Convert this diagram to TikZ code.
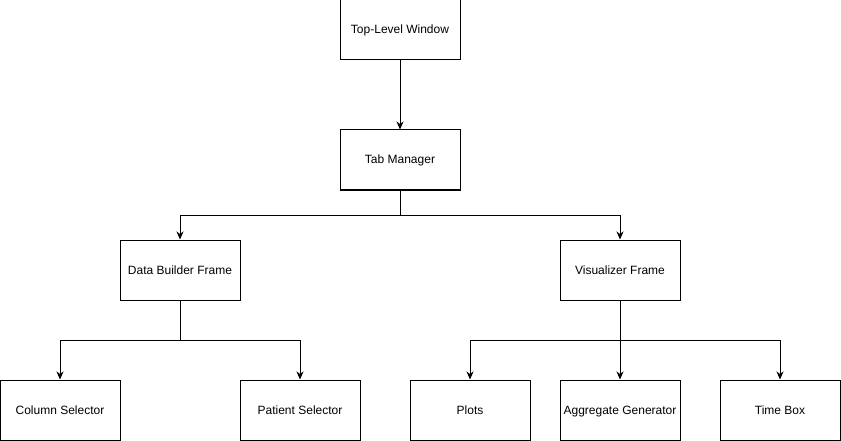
\documentclass[tikz,border=0pt]{standalone}
\usepackage{fontspec}
\setmainfont{Liberation Sans}
\usetikzlibrary{arrows.meta}
\begin{document}
\begin{tikzpicture}[x=1pt, y=-1pt, line width=1pt, >={Stealth[length=8pt,width=7pt,inset=2.5pt]},
	box/.style={draw, minimum width=120pt, minimum height=60pt, inner sep=0pt, text height=10pt, text depth=2pt, font=\fontsize{12}{14}\selectfont}]
	\useasboundingbox (0, 0) rectangle (841, 441);

	\node[box] (top) at (400, 30) {Top-Level Window};
	\node[box] (tab) at (400, 160) {Tab Manager};
	\node[box] (dbf) at (180, 270) {Data Builder Frame};
	\node[box] (vis) at (620, 270) {Visualizer Frame};
	\node[box] (col) at (60, 410) {Column Selector};
	\node[box] (pat) at (300, 410) {Patient Selector};
	\node[box] (plt) at (470, 410) {Plots};
	\node[box] (agg) at (620, 410) {Aggregate Generator};
	\node[box] (tim) at (780, 410) {Time Box};

	\draw[->] (top) -- (tab);

	\draw[->] (tab.south) -- ++(0, 25) -| (dbf.north);
	\draw[->] (tab.south) -- ++(0, 25) -| (vis.north);

	\draw[->] (dbf.south) -- ++(0, 40) -| (col.north);
	\draw[->] (dbf.south) -- ++(0, 40) -| (pat.north);

	\draw[->] (vis.south) -- ++(0, 40) -| (plt.north);
	\draw[->] (vis) -- (agg);
	\draw[->] (vis.south) -- ++(0, 40) -| (tim.north);
\end{tikzpicture}
\end{document}
